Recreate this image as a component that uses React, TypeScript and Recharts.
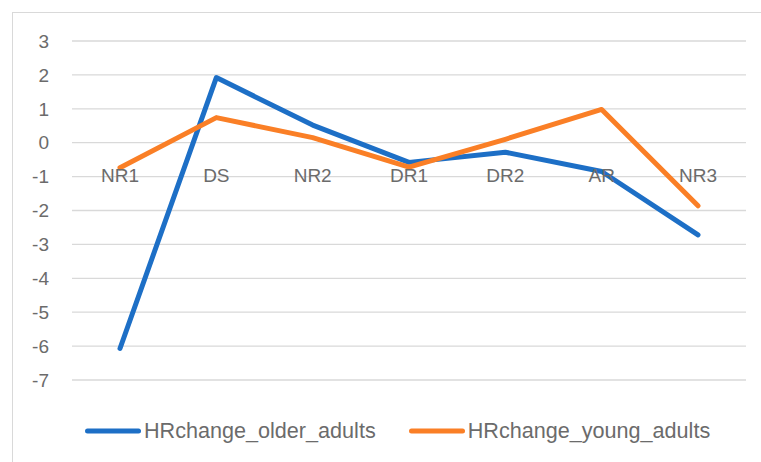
import { LineChart, Line, XAxis, YAxis, CartesianGrid, Legend } from 'recharts'

const categories = ['NR1', 'DS', 'NR2', 'DR1', 'DR2', 'AR', 'NR3']
const olderAdults = [-6.07, 1.92, 0.52, -0.58, -0.28, -0.85, -2.72]
const youngAdults = [-0.74, 0.74, 0.15, -0.72, 0.1, 0.98, -1.86]
const yTicks = [-7, -6, -5, -4, -3, -2, -1, 0, 1, 2, 3]

const data = categories.map((name, i) => ({
  name,
  HRchange_older_adults: olderAdults[i],
  HRchange_young_adults: youngAdults[i],
}))

const W = 761
const H = 462
const TEXT = '#6b6b6b'
const FONT = '"Liberation Sans", Arial, sans-serif'
const BLUE = '#1d6fc6'
const ORANGE = '#fa7f26'

// plot area (from margins below)
const PLOT_TOP = 41
const PLOT_BOTTOM = 380
const Y_MIN = yTicks[0]
const Y_MAX = yTicks[yTicks.length - 1]

// Excel puts the category labels right under the zero line
function CategoryTick(props: any) {
  const { x, payload } = props
  const zeroY = PLOT_TOP + ((Y_MAX - 0) / (Y_MAX - Y_MIN)) * (PLOT_BOTTOM - PLOT_TOP)
  return (
    <text x={x} y={zeroY + 39} textAnchor="middle" fill={TEXT} fontSize={19} fontFamily={FONT}>
      {payload.value}
    </text>
  )
}

function LegendContent(props: any) {
  const items = props.payload || []
  return (
    <div style={{ display: 'flex', alignItems: 'center', paddingLeft: 85, height: 30, gap: 33 }}>
      {items.map((it: any) => (
        <div key={it.value} style={{ display: 'flex', alignItems: 'center' }}>
          <svg width={56} height={8}>
            <line x1={2.5} y1={4} x2={53.5} y2={4} stroke={it.color} strokeWidth={5} strokeLinecap="round" />
          </svg>
          <span style={{ marginLeft: 3, color: TEXT, fontSize: 21.6, fontFamily: FONT }}>{it.value}</span>
        </div>
      ))}
    </div>
  )
}

export default function App() {
  return (
    <div style={{ position: 'absolute', left: 0, top: 0, width: W, height: H, background: '#fff', overflow: 'hidden' }}>
      <div
        style={{
          position: 'absolute',
          left: 12,
          top: 12,
          width: W + 20,
          height: H + 20,
          border: '1.5px solid #d9d9d9',
        }}
      />
      <LineChart
        width={W}
        height={H}
        data={data}
        margin={{ top: PLOT_TOP, right: 15, left: 12, bottom: 51 }}
        style={{ position: 'absolute', left: 0, top: 0 }}
      >
        <CartesianGrid vertical={false} stroke="#d9d9d9" strokeWidth={1.3} />
        <XAxis
          dataKey="name"
          height={1}
          axisLine={false}
          tickLine={false}
          interval={0}
          padding={{ left: 48, right: 48 }}
          tick={<CategoryTick />}
        />
        <YAxis
          width={60}
          domain={[Y_MIN, Y_MAX]}
          ticks={yTicks}
          axisLine={false}
          tickLine={false}
          tickMargin={17}
          tick={{ fill: TEXT, fontSize: 19, fontFamily: FONT }}
        />
        <Legend
          content={<LegendContent />}
          wrapperStyle={{ left: 0, width: W, bottom: 16, height: 30 }}
        />
        <Line
          type="linear"
          dataKey="HRchange_older_adults"
          stroke={BLUE}
          strokeWidth={5}
          dot={false}
          strokeLinecap="round"
          strokeLinejoin="round"
          isAnimationActive={false}
        />
        <Line
          type="linear"
          dataKey="HRchange_young_adults"
          stroke={ORANGE}
          strokeWidth={5}
          dot={false}
          strokeLinecap="round"
          strokeLinejoin="round"
          isAnimationActive={false}
        />
      </LineChart>
    </div>
  )
}
